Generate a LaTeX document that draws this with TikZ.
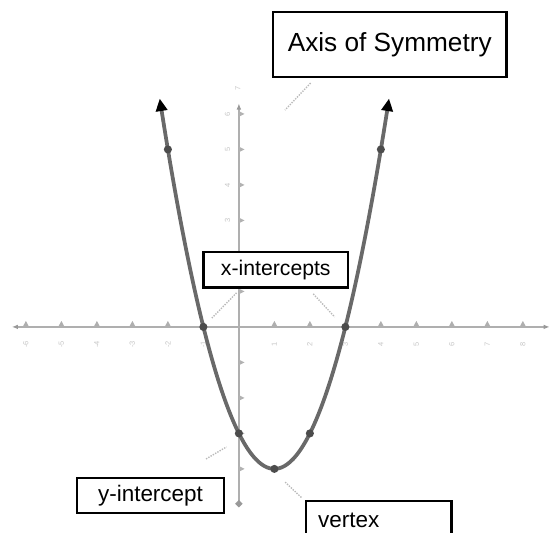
\documentclass[tikz,border=0pt]{standalone}
\usepackage{fontspec}
\setmainfont{Liberation Sans}
\usetikzlibrary{positioning, arrows.meta, calc}
\definecolor{axisgray} {RGB}{175,175,175}
\definecolor{curvegray}{RGB}{105,105,105}
\tikzset{
  % Label box
  tag/.style={
    rectangle, draw=black, line width=2pt, fill=white,
    inner sep=0pt, align=center, text=black
  },
  % Dotted leader from a label
  leader/.style={densely dotted, line width=1.1pt, color=gray!55},
  % Axes and curve
  axisline/.style={line width=2.2pt, color=axisgray},
  curveline/.style={line width=3pt, color=curvegray,
    {Triangle[length=10pt, width=9pt, color=black]}-{Triangle[length=10pt, width=9pt, color=black]}},
  pt/.style={circle, fill=black!70, inner sep=0pt, minimum size=6.5pt},
  ticklabel/.style={font=\fontsize{6pt}{6pt}\selectfont, text=gray!45, rotate=90},
}

\begin{document}
\begin{tikzpicture}[x=1cm, y=1cm]
  \useasboundingbox (-6.73,-5.80) rectangle (8.99,9.21);

  % axes
  \draw[axisline, {Latex[length=5pt, color=gray!80]}-{Latex[length=5pt, color=gray!80]}] (-6.4,0) -- (8.76,0);
  \draw[axisline, {Circle[length=5pt, color=gray!80]}-{Latex[length=5pt, color=gray!80]}] (0,-5.07) -- (0,6.3);
  \foreach \x in {-6,...,-1,1,2,...,8} {
    \fill[axisgray] (\x-0.09,0) -- (\x,0.17) -- (\x+0.09,0) -- cycle;
    \node[ticklabel] at (\x,-0.5) {\x};
  }
  \foreach \y in {-4,...,-1,1,2,...,6}
    \fill[gray!60] (0,\y+0.08) -- (0.16,\y) -- (0,\y-0.08) -- cycle;
  \foreach \y in {3,4,5,6}
    \node[ticklabel] at (-0.32,\y) {\y};
  \node[ticklabel] at (-0.03,6.72) {7};

  % parabola
  \draw[curveline] plot[domain=-2.23:4.23, samples=80, smooth] (\x, {\x*\x-2*\x-3});
  \node[pt] (p1) at (-2,5) {};
  \node[pt] (p2) at (4,5) {};
  \node[pt] (lroot) at (-1,0) {};
  \node[pt] (rroot) at (3,0) {};
  \node[pt] (yint) at (0,-3) {};
  \node[pt] (p3) at (2,-3) {};
  \node[pt] (vtx) at (1,-4) {};

  % labels
  \node[tag, minimum width=6.59cm, minimum height=1.83cm,
        font=\fontsize{21pt}{24pt}\selectfont] (axbox) at (4.25,7.96) {Axis of Symmetry};
  \node[tag, minimum width=4.06cm, minimum height=1.01cm,
        font=\fontsize{17pt}{20pt}\selectfont] (xbox) at (1.04,1.61) {x-intercepts};
  \node[tag, minimum width=4.14cm, minimum height=0.99cm,
        font=\fontsize{18pt}{21pt}\selectfont] (ybox) at (-2.49,-4.75) {y-intercept};
  \node[tag, minimum height=1.1cm, text width=3.41cm, inner xsep=0.35cm, align=left,
        font=\fontsize{18pt}{21pt}\selectfont] (vbox) at (3.94,-5.45) {vertex};

  % leader ends
  \coordinate (axend) at (1.30,6.11);
  \coordinate (xlend) at (-0.76,0.25);
  \coordinate (xrend) at (2.70,0.28);
  \coordinate (yend) at (-0.35,-3.38);
  \coordinate (vend) at (1.30,-4.37);

  \draw[leader] ([xshift=1.1cm, yshift=-0.14cm]axbox.south west) -- (axend);
  \draw[leader] ([xshift=0.96cm, yshift=-0.11cm]xbox.south west) -- (xlend);
  \draw[leader] ([xshift=-1.01cm, yshift=-0.14cm]xbox.south east) -- (xrend);
  \draw[leader] ([xshift=-0.54cm, yshift=0.5cm]ybox.north east) -- (yend);
  \draw[leader] ([xshift=-0.09cm, yshift=0.06cm]vbox.north west) -- (vend);
\end{tikzpicture}
\end{document}
